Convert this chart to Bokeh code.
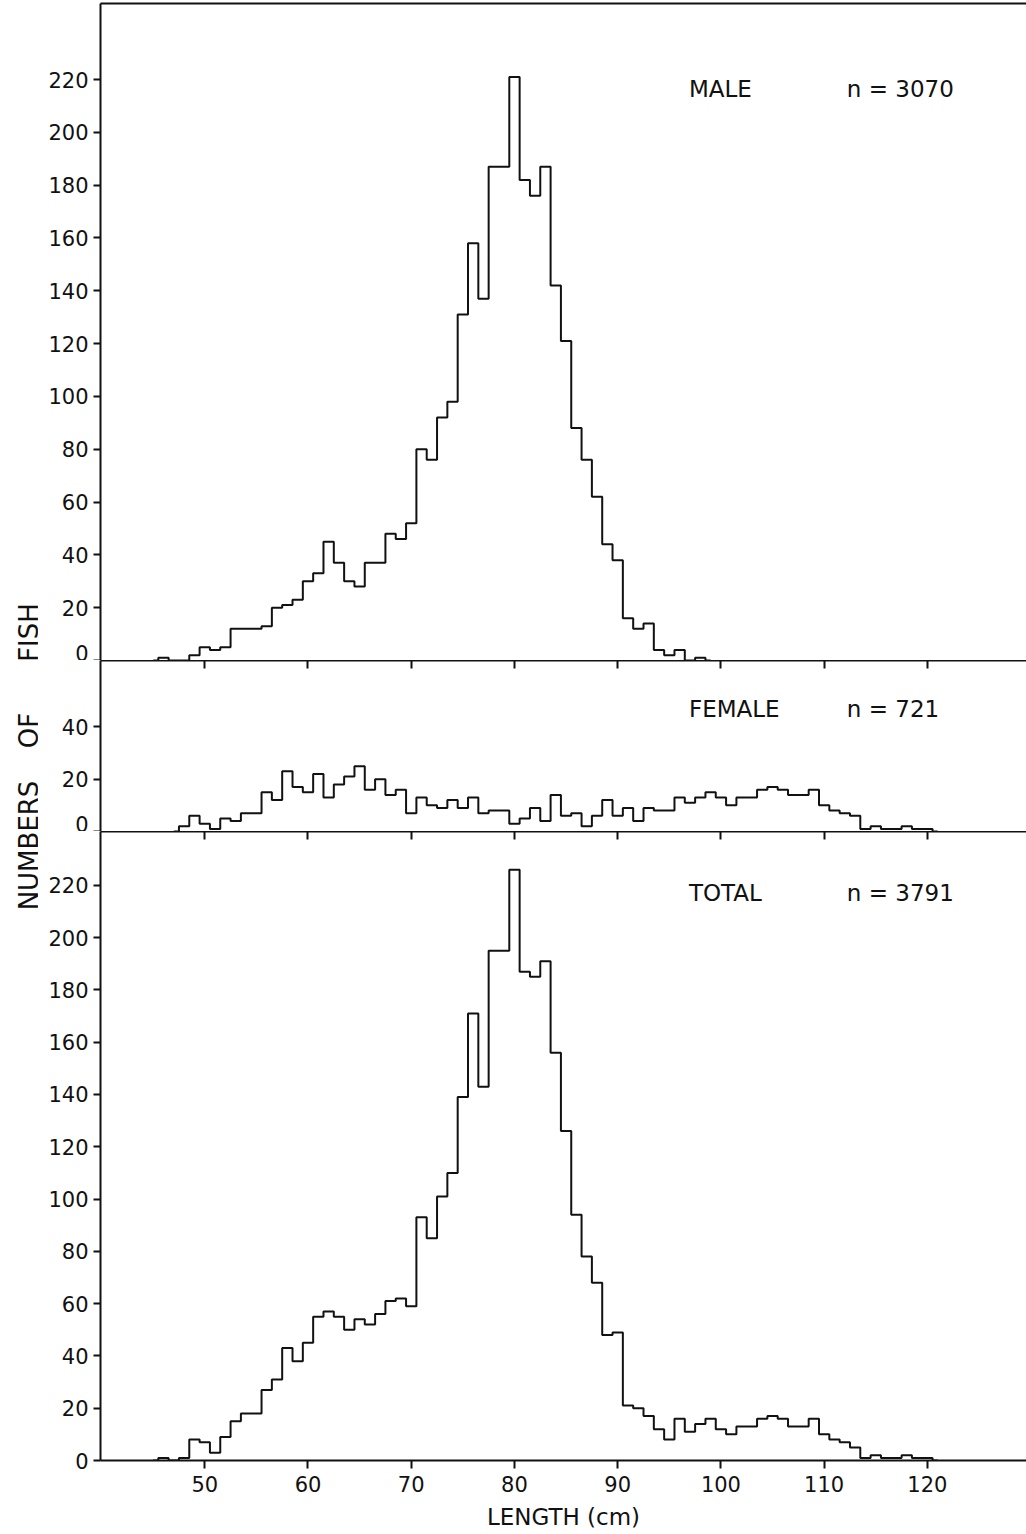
import numpy as np
from bokeh.plotting import figure
from bokeh.layouts import row, column
from bokeh.models import Range1d, FixedTicker, LinearAxis
from bokeh.core.properties import value
from bokeh.embed import file_html
from bokeh.resources import INLINE

# ---------------- data (length-frequency, 1 cm classes) ----------------
x_ticks = [50, 60, 70, 80, 90, 100, 110, 120]
y_ticks_big = [0, 20, 40, 60, 80, 100, 120, 140, 160, 180, 200, 220]
y_ticks_small = [0, 20, 40]

male_label, male_n = "MALE", "n = 3070"
female_label, female_n = "FEMALE", "n = 721"
total_label, total_n = "TOTAL", "n = 3791"

male_first_cm = 46
male_counts = [1, 0, 0, 2, 5, 4, 5, 12, 12, 12,
               13, 20, 21, 23, 30, 33, 45, 37, 30, 28,
               37, 37, 48, 46, 52, 80, 76, 92, 98, 131,
               158, 137, 187, 187, 221, 182, 176, 187, 142, 121,
               88, 76, 62, 44, 38, 16, 12, 14, 4, 2,
               4, 0, 1]

female_first_cm = 48
female_counts = [2, 6, 3, 1, 5, 4, 7, 7, 15, 12,
                 23, 17, 15, 22, 13, 18, 21, 25, 16, 20,
                 14, 16, 7, 13, 10, 9, 12, 9, 13, 7,
                 8, 8, 3, 5, 9, 4, 14, 6, 7, 2,
                 6, 12, 6, 9, 4, 9, 8, 8, 13, 11,
                 13, 15, 13, 10, 13, 13, 16, 17, 16, 14,
                 14, 16, 10, 8, 7, 6, 1, 2, 1, 1,
                 2, 1, 1]

total_first_cm = 46
total_counts = [1, 0, 1, 8, 7, 3, 9, 15, 18, 18,
                27, 31, 43, 38, 45, 55, 57, 55, 50, 54,
                52, 56, 61, 62, 59, 93, 85, 101, 110, 139,
                171, 143, 195, 195, 226, 187, 185, 191, 156, 126,
                94, 78, 68, 48, 49, 21, 20, 17, 12, 8,
                16, 11, 14, 16, 12, 10, 13, 13, 16, 17,
                16, 13, 13, 16, 10, 8, 7, 5, 1, 2,
                1, 1, 2, 1, 1]

# ---------------- styling ----------------
FONT = "DejaVu Sans"
INK = "#111111"
LAB_W = 38
FRAME_W = 926
LEFT = 62
xr = Range1d(39.9, 129.6)


def step_xy(first, counts):
    xs = [first - 1] + [first + i for i in range(len(counts))] + [first + len(counts)]
    ys = [0] + list(counts) + [0]
    return xs, ys


def style_y(p, ticks):
    ax = p.left[0]
    ax.ticker = FixedTicker(ticks=ticks)
    ax.minor_tick_line_color = None
    ax.major_tick_in = 0
    ax.major_tick_out = 7
    ax.major_tick_line_width = 2
    ax.major_tick_line_color = INK
    ax.axis_line_width = 2
    ax.axis_line_color = INK
    ax.major_label_text_font = FONT
    ax.major_label_text_font_size = "21px"
    ax.major_label_text_color = INK
    ax.major_label_standoff = 5


def hidden_top_axis(ax, with_ticks):
    ax.ticker = FixedTicker(ticks=x_ticks if with_ticks else [])
    ax.minor_tick_line_color = None
    ax.major_tick_out = 0
    ax.major_tick_in = 8 if with_ticks else 0
    ax.major_tick_line_width = 2
    ax.major_tick_line_color = INK
    ax.axis_line_width = 2
    ax.axis_line_color = INK
    ax.major_label_text_color = None
    ax.major_label_text_font_size = "1px"
    ax.major_label_standoff = 0
    ax.axis_label = None


def panel(frame_h, y_end, yticks, first, counts, label, ntext, label_y,
          bottom=False, top_pad=0):
    p = figure(frame_width=FRAME_W, frame_height=frame_h, x_range=xr,
               y_range=Range1d(0, y_end), output_backend="svg",
               toolbar_location=None, min_border_left=LEFT, min_border_right=0,
               min_border_top=top_pad, min_border_bottom=0,
               x_axis_location="below" if bottom else "above",
               background_fill_color="white", border_fill_color="white")
    p.grid.visible = False
    p.outline_line_color = None
    style_y(p, yticks)
    if bottom:
        top_ax = LinearAxis()
        p.add_layout(top_ax, "above")
        hidden_top_axis(top_ax, True)
        ax = p.below[0]
        ax.ticker = FixedTicker(ticks=x_ticks)
        ax.minor_tick_line_color = None
        ax.major_tick_in = 0
        ax.major_tick_out = 8
        ax.major_tick_line_width = 2
        ax.major_tick_line_color = INK
        ax.axis_line_width = 2
        ax.axis_line_color = INK
        ax.major_label_text_font = FONT
        ax.major_label_text_font_size = "21px"
        ax.major_label_text_color = INK
        ax.major_label_standoff = 7
        ax.axis_label = "LENGTH (cm)"
        ax.axis_label_text_font = FONT
        ax.axis_label_text_font_size = "23px"
        ax.axis_label_text_font_style = "normal"
        ax.axis_label_text_color = INK
        ax.axis_label_standoff = 9
    else:
        hidden_top_axis(p.above[0], label != male_label)

    xs, ys = step_xy(first, counts)
    p.step(xs, ys, mode="center", line_width=2, line_color=INK)

    p.text(x=[96.9], y=[label_y], text=[label], text_font=value(FONT),
           text_font_size="23px", text_baseline="middle", text_align="left",
           text_color=INK)
    p.text(x=[112.2], y=[label_y], text=[ntext], text_font=value(FONT),
           text_font_size="23px", text_baseline="middle", text_align="left",
           text_color=INK)
    return p


top = panel(657, 248.8, y_ticks_big, male_first_cm, male_counts,
            male_label, male_n, 216.5, top_pad=3)
mid = panel(171, 65.4, y_ticks_small, female_first_cm, female_counts,
            female_label, female_n, 47)
bot = panel(629, 240.6, y_ticks_big, total_first_cm, total_counts,
            total_label, total_n, 217, bottom=True)

H = 1520
lab = figure(width=LAB_W, height=H, x_range=Range1d(0, LAB_W), y_range=Range1d(0, H),
             output_backend="svg", toolbar_location=None,
             x_axis_location=None, y_axis_location=None,
             min_border=0, min_border_left=0, min_border_right=0,
             min_border_top=0, min_border_bottom=0)
lab.grid.visible = False
lab.outline_line_color = None
lab.text(x=[28, 28, 28], y=[675, 790, 888], text=["NUMBERS", "OF", "FISH"],
         angle=np.pi / 2, text_font=value(FONT), text_font_size="26px",
         text_align="center", text_baseline="middle", text_color=INK)

layout = row(lab, column(top, mid, bot, spacing=0), spacing=0)

open("out.html", "w").write(file_html(layout, INLINE))
